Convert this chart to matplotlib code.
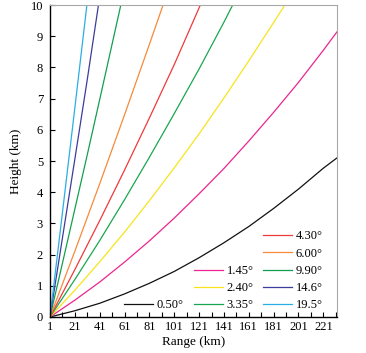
import matplotlib
matplotlib.use("Agg")
import matplotlib.pyplot as plt
import numpy as np

## Data (range in km, beam height in km)
angles = ['0.50°', '1.45°', '2.40°', '3.35°', '4.30°', '6.00°', '9.90°', '14.6°', '19.5°']
colors = ['#111111', '#ec2590', '#f7e41c', '#1aa650', '#ef3a3a',
          '#f78a3a', '#12a050', '#3c3c9c', '#2aaee6']

range_050 = [1, 21, 41, 61, 81, 101, 121, 141, 161, 181, 201, 221, 232]
height_050 = [0, 0.20, 0.44, 0.74, 1.08, 1.46, 1.90, 2.38, 2.90, 3.48, 4.10, 4.77, 5.10]

range_145 = [1, 21, 41, 61, 81, 101, 121, 141, 161, 181, 201, 221, 232]
height_145 = [0, 0.54, 1.12, 1.76, 2.44, 3.17, 3.95, 4.76, 5.64, 6.56, 7.52, 8.55, 9.14]

range_240 = [1, 21, 41, 61, 81, 101, 121, 141, 161, 181, 190]
height_240 = [0, 0.86, 1.77, 2.72, 3.73, 4.78, 5.87, 7.02, 8.21, 9.44, 10.0]

range_335 = [1, 21, 41, 61, 81, 101, 121, 141, 148]
height_335 = [0, 1.20, 2.45, 3.76, 5.12, 6.52, 7.95, 9.45, 10.0]

range_430 = [1, 21, 41, 61, 81, 101, 122]
height_430 = [0, 1.52, 3.09, 4.71, 6.38, 8.09, 10.0]

range_600 = [1, 21, 41, 61, 81, 92]
height_600 = [0, 2.11, 4.27, 6.48, 8.74, 10.0]

range_990 = [1, 11, 21, 31, 41, 51, 58]
height_990 = [0, 1.72, 3.46, 5.20, 6.97, 8.75, 10.0]

range_146 = [1, 11, 21, 31, 40]
height_146 = [0, 2.53, 5.06, 7.61, 10.0]

range_195 = [1, 11, 21, 30.7]
height_195 = [0, 3.34, 6.70, 10.0]

ranges = [range_050, range_145, range_240, range_335, range_430,
          range_600, range_990, range_146, range_195]
heights = [height_050, height_145, height_240, height_335, height_430,
           height_600, height_990, height_146, height_195]

plt.rcParams['font.family'] = ['Liberation Serif', 'DejaVu Serif']

fig = plt.figure(figsize=(3.66, 3.53), dpi=100)
ax = fig.add_axes([0.1366, 0.102, 0.7842, 0.8838])

lines = []
for r, h, c, lab in zip(ranges, heights, colors, angles):
    ln, = ax.plot(r, h, color=c, lw=0.9, label=lab)
    lines.append(ln)

ax.set_xlim(1, 232)
ax.set_ylim(0, 10)
ax.set_xticks(np.arange(1, 222, 20))
ax.set_xticks(np.arange(11, 232, 20), minor=True)
ax.set_yticks(np.arange(0, 11, 1))
ax.tick_params(direction='in', length=3.5, width=0.8, labelsize=9, pad=3)
ax.tick_params(which='minor', direction='in', length=3.5, width=0.8)
ax.tick_params(axis='y', pad=5)

for side in ['top', 'right']:
    ax.spines[side].set_color('#a8a8a8')
for side in ['left', 'bottom']:
    ax.spines[side].set_linewidth(1.0)

ax.set_xlabel('Range (km)', fontsize=9.5, labelpad=2)
ax.set_ylabel('Height (km)', fontsize=9.5, labelpad=6)

# Legend: three bottom-aligned columns
leg_kw = dict(loc='lower left', frameon=False, fontsize=9, borderpad=0,
              handlelength=2.35, handletextpad=0.25, labelspacing=0.42,
              borderaxespad=0)
leg1 = ax.legend(handles=lines[0:1], bbox_to_anchor=(0.258, 0.018), **leg_kw)
ax.add_artist(leg1)
leg2 = ax.legend(handles=lines[1:4], bbox_to_anchor=(0.502, 0.018), **leg_kw)
ax.add_artist(leg2)
ax.legend(handles=lines[4:9], bbox_to_anchor=(0.742, 0.018), **leg_kw)

fig.savefig('out.png', dpi=100)
